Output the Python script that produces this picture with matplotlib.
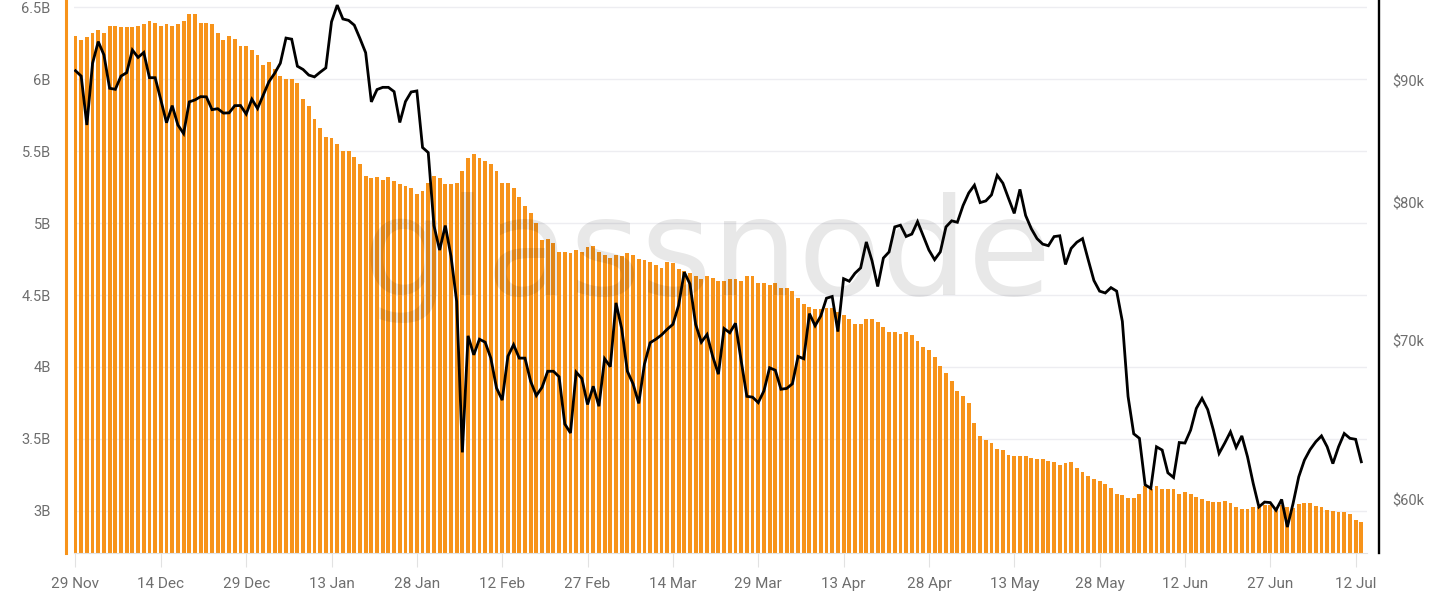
import numpy as np
import matplotlib
matplotlib.use("Agg")
import matplotlib.pyplot as plt
from matplotlib.ticker import FixedLocator, FuncFormatter, NullLocator

plt.rcParams['font.family'] = ['Roboto', 'DejaVu Sans']

# Daily values, 29 Nov -> 13 Jul
supply_b = [
    6.30, 6.27, 6.29, 6.32, 6.34, 6.32, 6.37, 6.37, 6.36, 6.36,
    6.36, 6.37, 6.38, 6.40, 6.39, 6.37, 6.38, 6.37, 6.38, 6.40,
    6.45, 6.45, 6.39, 6.39, 6.38, 6.32, 6.27, 6.30, 6.28, 6.23,
    6.23, 6.20, 6.17, 6.10, 6.12, 6.07, 6.02, 6.00, 6.00, 5.97,
    5.86, 5.81, 5.72, 5.66, 5.60, 5.59, 5.55, 5.50, 5.50, 5.46,
    5.41, 5.33, 5.31, 5.32, 5.30, 5.32, 5.29, 5.27, 5.26, 5.24,
    5.20, 5.22, 5.28, 5.33, 5.31, 5.27, 5.27, 5.28, 5.36, 5.45,
    5.48, 5.45, 5.43, 5.41, 5.36, 5.28, 5.28, 5.24, 5.18, 5.12,
    5.07, 5.00, 4.88, 4.89, 4.86, 4.80, 4.80, 4.79, 4.81, 4.80,
    4.83, 4.84, 4.80, 4.78, 4.76, 4.78, 4.77, 4.79, 4.78, 4.75,
    4.74, 4.73, 4.71, 4.69, 4.73, 4.72, 4.68, 4.67, 4.65, 4.63,
    4.61, 4.63, 4.62, 4.60, 4.60, 4.61, 4.61, 4.60, 4.63, 4.63,
    4.58, 4.58, 4.57, 4.58, 4.55, 4.55, 4.53, 4.48, 4.44, 4.42,
    4.40, 4.40, 4.41, 4.41, 4.38, 4.36, 4.33, 4.30, 4.30, 4.33,
    4.33, 4.31, 4.28, 4.24, 4.24, 4.23, 4.24, 4.22, 4.18, 4.14,
    4.12, 4.07, 4.01, 3.96, 3.90, 3.83, 3.80, 3.75, 3.61, 3.52,
    3.49, 3.47, 3.43, 3.42, 3.39, 3.38, 3.38, 3.38, 3.37, 3.36,
    3.36, 3.35, 3.34, 3.32, 3.33, 3.34, 3.30, 3.27, 3.24, 3.22,
    3.21, 3.19, 3.16, 3.12, 3.11, 3.09, 3.09, 3.12, 3.17, 3.15,
    3.17, 3.15, 3.15, 3.15, 3.12, 3.13, 3.12, 3.10, 3.08, 3.07,
    3.065, 3.065, 3.07, 3.055, 3.025, 3.016, 3.016, 3.03, 3.03, 3.04,
    3.04, 3.02, 3.04, 3.03, 3.02, 3.045, 3.055, 3.055, 3.035, 3.025,
    3.01, 3.00, 2.99, 2.99, 2.98, 2.94, 2.92,
]

price_usd = [
    90900, 90430, 86250, 91560, 93500, 92300, 89370, 89280, 90430, 90730,
    92740, 92080, 92520, 90290, 90290, 88370, 86440, 87880, 86250, 85540,
    88200, 88370, 88650, 88630, 87540, 87620, 87250, 87270, 87880, 87890,
    87170, 88430, 87640, 88790, 89940, 90670, 91560, 93820, 93720, 91300,
    91010, 90520, 90360, 90770, 91150, 95310, 96860, 95570, 95440, 95000,
    93780, 92500, 88200, 89260, 89450, 89450, 89080, 86460, 88230, 89050,
    89140, 84390, 83980, 78250, 76420, 78250, 75970, 72700, 62830, 70330,
    69050, 70100, 69900, 68830, 66870, 66090, 68950, 69730, 68830, 68830,
    67300, 66380, 66910, 67960, 67960, 67600, 64580, 64020, 67900, 67490,
    65810, 66980, 65700, 68790, 68260, 72610, 70830, 67960, 67140, 65880,
    68430, 69860, 70100, 70390, 70780, 71120, 72430, 74800, 73950, 71120,
    69900, 70420, 68940, 67770, 70830, 70540, 71190, 68660, 66330, 66280,
    65930, 66680, 68190, 68030, 66790, 66840, 67140, 68940, 68790, 71860,
    71020, 71700, 72940, 73060, 70620, 74330, 74150, 74720, 75110, 77020,
    75630, 73770, 75830, 76280, 78150, 78280, 77430, 77610, 78550, 77480,
    76420, 75710, 76280, 78150, 78610, 78500, 79780, 80760, 81370, 80010,
    80140, 80610, 82150, 81530, 80330, 79180, 81040, 79020, 78010, 77270,
    76860, 76740, 77420, 77480, 75360, 76540, 77000, 77270, 75700, 74200,
    73440, 73310, 73690, 73440, 71320, 66330, 63970, 63690, 60890, 60680,
    63170, 62970, 61600, 61320, 63430, 63400, 64200, 65560, 66200, 65490,
    64200, 62770, 63400, 64090, 63130, 63840, 62560, 60970, 59600, 59880,
    59850, 59410, 60030, 58450, 59790, 61360, 62360, 63000, 63480, 63840,
    63170, 62150, 63170, 63990, 63690, 63630, 62260,
]

tick_days = [0, 15, 30, 45, 60, 75, 90, 105, 120, 135, 150, 165, 180, 195, 210, 225]
tick_labels = ["29 Nov", "14 Dec", "29 Dec", "13 Jan", "28 Jan", "12 Feb", "27 Feb",
               "14 Mar", "29 Mar", "13 Apr", "28 Apr", "13 May", "28 May", "12 Jun",
               "27 Jun", "12 Jul"]

left_ticks = [3.0, 3.5, 4.0, 4.5, 5.0, 5.5, 6.0, 6.5]
right_ticks = [60000, 70000, 80000, 90000]

orange = '#f7931a'
text_col = '#6e6e6e'
grid_col = '#ededf1'

days = np.arange(len(supply_b))

fig = plt.figure(figsize=(14.38, 6.05), dpi=100)
ax = fig.add_axes([73.5 / 1438, 1 - 553 / 605, (1367 - 73.5) / 1438, 553 / 605])

ax.bar(days, np.array(supply_b) * 1e9, width=0.68, color=orange, zorder=2)
ax.set_xlim(-0.35, 227.0)
ax.set_ylim(2.708e9, 6.549e9)
ax.yaxis.set_major_locator(FixedLocator([v * 1e9 for v in left_ticks]))
ax.yaxis.set_major_formatter(FuncFormatter(lambda v, p: f"{v / 1e9:g}B"))
ax.grid(axis='y', color=grid_col, linewidth=1.0)
ax.set_axisbelow(True)

ax.set_xticks(tick_days)
ax.set_xticklabels(tick_labels)
ax.tick_params(axis='x', length=10, width=0.8, color='#e2e2e2', pad=7,
               labelsize=11, labelcolor=text_col)
ax.tick_params(axis='y', length=0, pad=11, labelsize=10.5, labelcolor=text_col)

ax.spines['top'].set_visible(False)
ax.spines['right'].set_visible(False)
ax.spines['bottom'].set_color('#e2e2e2')
ax.spines['bottom'].set_linewidth(0.8)
ax.spines['left'].set_color(orange)
ax.spines['left'].set_linewidth(2.2)
ax.spines['left'].set_position(('outward', 5.4))

# watermark, between the bars and the price line
ax.text(0.492, 0.512, "glassnode", transform=fig.transFigure,
        ha='center', va='baseline', fontsize=98, family='DejaVu Sans',
        color='black', alpha=0.09, zorder=3)

ax2 = ax.twinx()
ax2.plot(days, price_usd, color='black', linewidth=2.0, solid_joinstyle='miter', zorder=4)
ax2.set_yscale('log')
ax2.set_ylim(57000, 97340)
ax2.yaxis.set_major_locator(FixedLocator(right_ticks))
ax2.yaxis.set_minor_locator(NullLocator())
ax2.yaxis.set_major_formatter(FuncFormatter(lambda v, p: f"${v / 1000:.0f}k"))
ax2.tick_params(axis='y', length=0, pad=10, labelsize=10.5, labelcolor=text_col)
for s in ['top', 'bottom', 'left']:
    ax2.spines[s].set_visible(False)
ax2.spines['right'].set_color('black')
ax2.spines['right'].set_linewidth(1.7)
ax2.spines['right'].set_position(('outward', 8.3))

fig.savefig("out.png", dpi=100)
